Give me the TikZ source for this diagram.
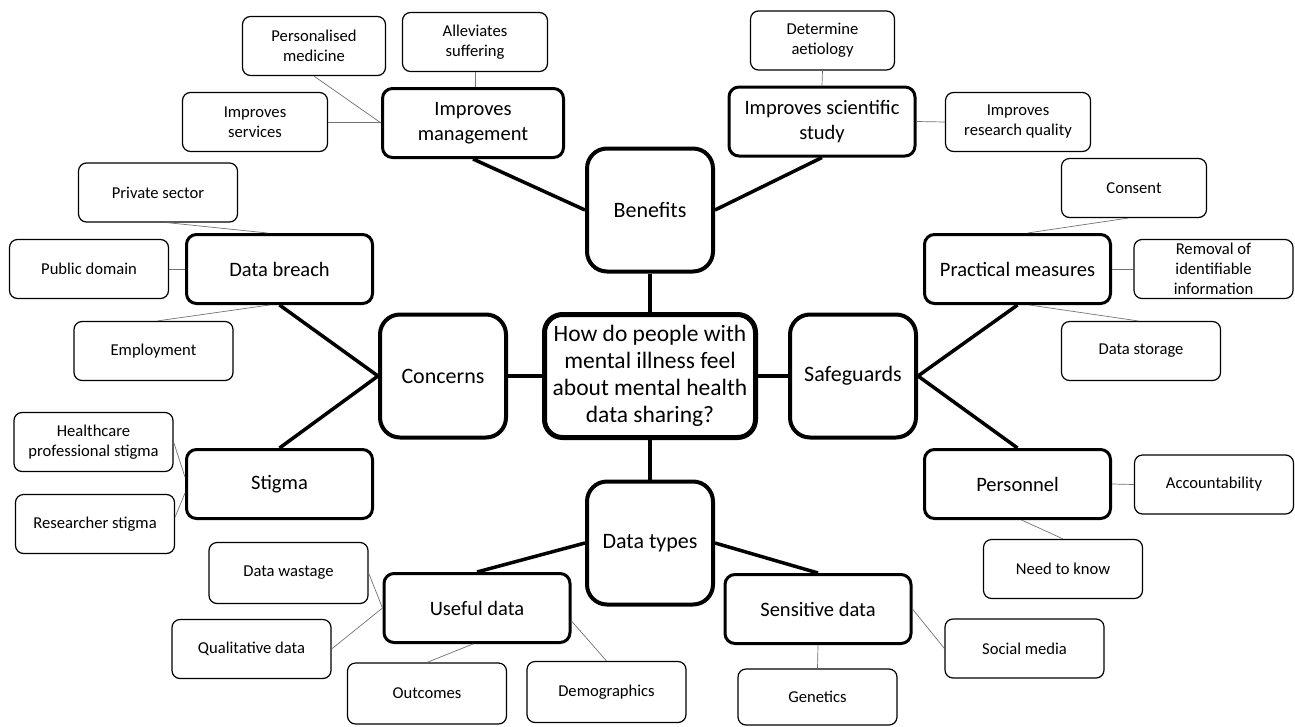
\documentclass[tikz,border=0pt]{standalone}
\usepackage{fontspec}
\setmainfont{Carlito}
\usetikzlibrary{positioning}

\begin{document}
\begin{tikzpicture}[x=1pt, y=-1pt,
  hub/.style={draw, line width=5pt, rounded corners=18pt, minimum width=211pt, minimum height=123pt, inner sep=0pt, align=center, font=\fontsize{23.5}{27}\selectfont},
  topic/.style={draw, line width=4pt, rounded corners=20pt, minimum width=126pt, minimum height=123pt, inner sep=0pt, align=center, font=\fontsize{22}{26}\selectfont},
  branch/.style={draw, line width=3pt, rounded corners=10pt, minimum width=186pt, minimum height=69pt, inner sep=0pt, align=center, font=\fontsize{20.5}{24.5}\selectfont},
  leaf/.style={draw, line width=1.2pt, rounded corners=8pt, minimum width=159pt, minimum height=59pt, inner sep=0pt, align=center, font=\fontsize{16.6}{20}\selectfont},
  major/.style={line width=3.5pt},
  minor/.style={line width=0.7pt, black!55},
]
  \fill[white] (0,0) rectangle (1295,726);
  \useasboundingbox (0,0) rectangle (1295,726);

  % question and main topics
  \node[hub] (q) at (650,376) {How do people with\\mental illness feel\\about mental health\\data sharing?};
  \node[topic] (benefits) at (650,210) {Benefits};
  \node[topic] (concerns) at (443,376) {Concerns};
  \node[topic] (safeguards) at (853,376) {Safeguards};
  \node[topic] (types) at (650,543) {Data types};

  % sub topics
  \node[branch, minimum width=181pt] (mgmt) at (473,123) {Improves\\management};
  \node[branch] (sci) at (822,121.5) {Improves scientific\\study};
  \node[branch] (breach) at (279.5,269) {Data breach};
  \node[branch] (practical) at (1017.5,269) {Practical measures};
  \node[branch] (stigma) at (279.5,484) {Stigma};
  \node[branch] (personnel) at (1017.5,484) {Personnel};
  \node[branch] (useful) at (477,608) {Useful data};
  \node[branch] (sensitive) at (818,609) {Sensitive data};

  % leaves
  \node[leaf, minimum width=143pt] (persmed) at (314,46) {Personalised\\medicine};
  \node[leaf, minimum width=145pt] (allev) at (475,42) {Alleviates\\suffering};
  \node[leaf, minimum width=145pt] (services) at (255,122) {Improves\\services};
  \node[leaf, minimum width=144pt] (aetiology) at (822.5,40.5) {Determine\\aetiology};
  \node[leaf, minimum width=145pt] (resqual) at (1018,122) {Improves\\research quality};
  \node[leaf] (private) at (158,192.5) {Private sector};
  \node[leaf] (public) at (89,269) {Public domain};
  \node[leaf] (employ) at (153.5,351) {Employment};
  \node[leaf, minimum width=145pt] (consent) at (1134,188) {Consent};
  \node[leaf] (removal) at (1213.5,269) {Removal of\\identifiable\\information};
  \node[leaf] (storage) at (1141,351) {Data storage};
  \node[leaf] (hcp) at (93.5,442) {Healthcare\\professional stigma};
  \node[leaf] (researcher) at (95,524) {Researcher stigma};
  \node[leaf] (account) at (1214,484.5) {Accountability};
  \node[leaf] (needknow) at (1063,569) {Need to know};
  \node[leaf] (social) at (1024.5,648.5) {Social media};
  \node[leaf, minimum height=56pt] (genetics) at (817.5,697) {Genetics};
  \node[leaf, minimum height=61pt] (datawaste) at (288.5,573) {Data wastage};
  \node[leaf] (qualit) at (251.5,649) {Qualitative data};
  \node[leaf, minimum height=61pt] (outcomes) at (427,693.5) {Outcomes};
  \node[leaf, minimum height=61pt] (demog) at (606.5,692) {Demographics};

  % thick links
  \foreach \a/\b in {benefits.south/q.north, concerns.east/q.west, safeguards.west/q.east, types.north/q.south,
                     benefits.west/mgmt.south, benefits.east/sci.south,
                     concerns.west/breach.south, concerns.west/stigma.north,
                     safeguards.east/practical.south, safeguards.east/personnel.north,
                     types.west/useful.north, types.east/sensitive.north}
    \draw[major] (\a) -- (\b);

  % thin links
  \draw[minor] (persmed.south) -- (mgmt.west);
  \draw[minor] (allev.south) -- (allev.south |- mgmt.north);
  \draw[minor] (services.east) -- (services.east -| mgmt.west);
  \draw[minor] (aetiology.south) -- (sci.north);
  \draw[minor] (sci.east) -- (resqual.west);
  \draw[minor] ([xshift=9pt]private.south) -- ([xshift=-12pt]breach.north);
  \draw[minor] (public.east) -- (breach.west);
  \draw[minor] ([xshift=4pt]employ.north) -- ([xshift=-10pt]breach.south);
  \draw[minor] ([xshift=-6pt]consent.south) -- ([xshift=10pt]practical.north);
  \draw[minor] (practical.east) -- (removal.west);
  \draw[minor] ([xshift=12pt]practical.south) -- ([xshift=-3pt]storage.north);
  \draw[minor] (hcp.east) -- ([yshift=7pt]stigma.west);
  \draw[minor] ([yshift=7pt]researcher.east) -- ([yshift=-9pt]stigma.west);
  \draw[minor] (personnel.east) -- (account.west);
  \draw[minor] ([xshift=4pt]personnel.south) -- (needknow.north);
  \draw[minor] (sensitive.east) -- (social.west);
  \draw[minor] (sensitive.south) -- (genetics.north);
  \draw[minor] (datawaste.east) -- (useful.west);
  \draw[minor] (qualit.east) -- (useful.west);
  \draw[minor] (outcomes.north) -- ([xshift=-4pt]useful.south);
  \draw[minor] ([yshift=-13pt]useful.east) -- (demog.north);
\end{tikzpicture}
\end{document}
